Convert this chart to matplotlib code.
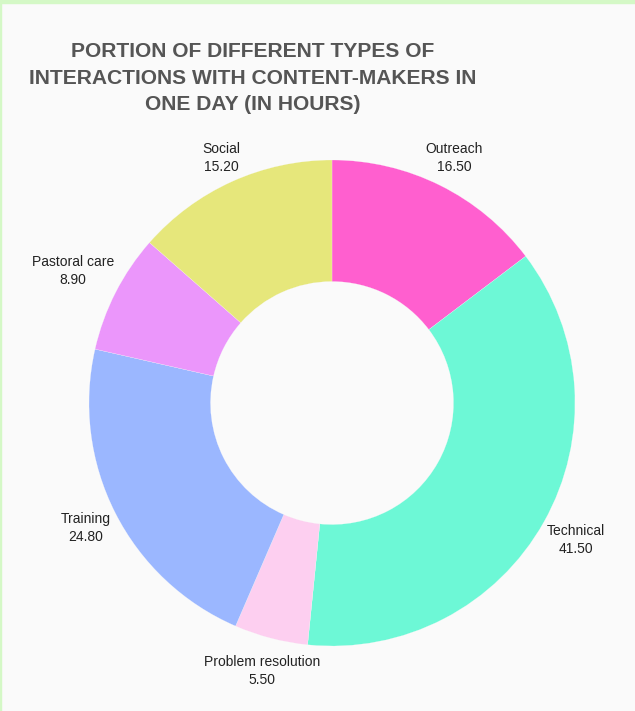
import numpy as np
import matplotlib
matplotlib.use('Agg')
import matplotlib.pyplot as plt
from matplotlib.patches import Rectangle

labels = ['Outreach', 'Technical', 'Problem resolution', 'Training', 'Pastoral care', 'Social']
hours = [16.5, 41.5, 5.5, 24.8, 8.9, 15.2]
colors = ['#ff5fcf', '#6df8d6', '#fdcff0', '#9bb7ff', '#eb96fb', '#e6e77b']
title = 'PORTION OF DIFFERENT TYPES OF\nINTERACTIONS WITH CONTENT-MAKERS IN\nONE DAY (IN HOURS)'

W, H = 635, 711
BG = '#fafafa'
CX, CY = 332, H - 403
R = 243

fig = plt.figure(figsize=(W / 100, H / 100), dpi=100, facecolor=BG)
ax = fig.add_axes([0, 0, 1, 1])
ax.set_facecolor(BG)

# border lines of the original frame
fig.patches.append(Rectangle((0, 1 - 3 / H), 1, 3 / H, transform=fig.transFigure,
                             color='#d4f8c6', zorder=0))
fig.patches.append(Rectangle((0, 0), 1.2 / W, 1, transform=fig.transFigure,
                             color='#d4f8c6', zorder=0))

wedges, _ = ax.pie(hours, colors=colors, startangle=90, counterclock=False,
                   center=(CX, CY), radius=R, frame=True,
                   wedgeprops=dict(width=R * 0.5, edgecolor=BG, linewidth=0.15))
ax.set_xlim(0, W)
ax.set_ylim(0, H)
ax.axis('off')

renderer = fig.canvas.get_renderer()
total = sum(hours)
cum = 0
for lab, val in zip(labels, hours):
    mid = 90 - 360 * (cum + val / 2) / total
    cum += val
    a = np.radians(mid)
    t = ax.text(0, 0, '%s\n%.2f' % (lab, val), ha='center', va='center',
                fontsize=10, family=['Liberation Sans', 'DejaVu Sans'],
                color='#222222', linespacing=1.35)
    bb = t.get_window_extent(renderer)
    w, h = bb.width, bb.height
    r = R + 4 + w / 2 * abs(np.cos(a)) + h / 2 * abs(np.sin(a))
    t.set_position((CX + r * np.cos(a), CY + r * np.sin(a)))

tt = fig.text(253 / W, 1 - 78 / H, title, ha='center', va='center', multialignment='center',
              fontsize=17, fontweight='bold', color='#555555',
              family=['Liberation Sans', 'DejaVu Sans'], linespacing=1.5)
# shrink the title so its widest line fits the original width
tw = tt.get_window_extent(renderer).width
tt.set_fontsize(17 * 450 / tw)

fig.savefig('out.png', dpi=100, facecolor=BG)
